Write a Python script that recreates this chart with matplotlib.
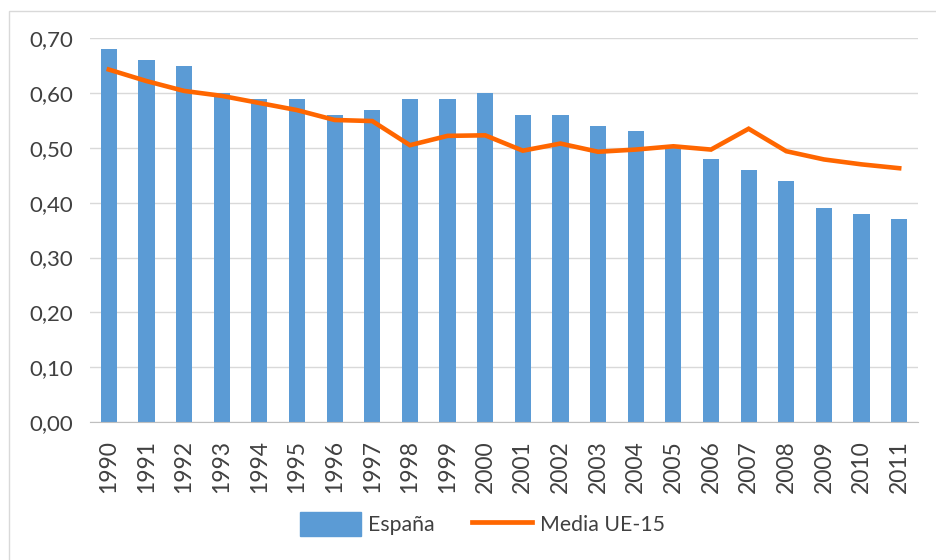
import matplotlib
matplotlib.use("Agg")
import matplotlib.pyplot as plt
from matplotlib.patches import Rectangle
from matplotlib.lines import Line2D

years = [str(y) for y in range(1990, 2012)]
espana = [0.68, 0.66, 0.65, 0.60, 0.59, 0.59, 0.56, 0.57, 0.59, 0.59, 0.60,
          0.56, 0.56, 0.54, 0.53, 0.50, 0.48, 0.46, 0.44, 0.39, 0.38, 0.37]
media_ue15 = [0.643, 0.622, 0.604, 0.595, 0.582, 0.569, 0.551, 0.549, 0.505, 0.522, 0.523,
              0.495, 0.508, 0.493, 0.497, 0.503, 0.497, 0.535, 0.494, 0.479, 0.470, 0.463]
yticks = [0.0, 0.1, 0.2, 0.3, 0.4, 0.5, 0.6, 0.7]

plt.rcParams['font.family'] = ['Lato', 'DejaVu Sans']

BLUE = '#5B9BD5'
ORANGE = '#FF6600'
TXT = '#404040'

fig = plt.figure(figsize=(9.37, 5.6), dpi=100)
ax = fig.add_axes([90/937, 1-422/560, (918-90)/937, (422-38.3)/560])

x = list(range(len(years)))
ax.bar(x, espana, width=0.43, color=BLUE, zorder=2)
ax.plot(x, media_ue15, color=ORANGE, lw=3.3, zorder=3, solid_joinstyle='miter')

ax.set_xlim(-0.5, len(years) - 0.5)
ax.set_ylim(0, 0.70)
ax.set_yticks(yticks)
ax.set_yticklabels([f"{v:.2f}".replace('.', ',') for v in yticks], fontsize=16, color=TXT)
ax.set_xticks(x)
ax.set_xticklabels(years, rotation=90, fontsize=16.5, color=TXT)
ax.tick_params(axis='y', length=0, pad=12)
ax.tick_params(axis='x', length=0, pad=13)
ax.grid(axis='y', color='#D9D9D9', lw=1, zorder=0)
for s in ['top', 'right', 'left']:
    ax.spines[s].set_visible(False)
ax.spines['bottom'].set_color('#BFBFBF')

handles = [Rectangle((0, 0), 1, 1, color=BLUE),
           Line2D([0], [0], color=ORANGE, lw=3.4)]
fig.legend(handles, ['España', 'Media UE-15'], loc='center', bbox_to_anchor=(482.5/937, 1-524/560),
           ncol=2, frameon=False, fontsize=15.3, handlelength=2.85, handleheight=1.3,
           handletextpad=0.35, columnspacing=1.75, labelcolor=TXT)

# outer chart frame
fig.patches.append(Rectangle((9/937, -0.01), 1.0, 1-11/560+0.01, transform=fig.transFigure,
                             fill=False, edgecolor='#D9D9D9', lw=1))

fig.savefig('out.png', dpi=100)
